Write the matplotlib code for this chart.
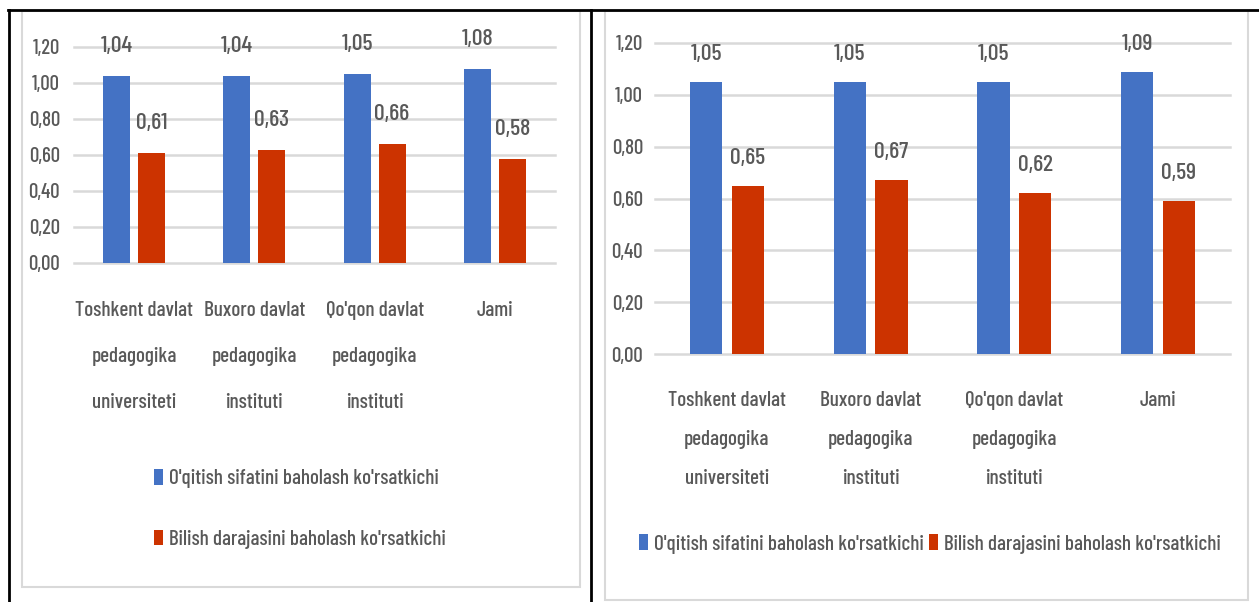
import matplotlib
matplotlib.use('Agg')
import matplotlib.pyplot as plt
from matplotlib import font_manager
from matplotlib.font_manager import FontProperties
from matplotlib.patches import Rectangle
from matplotlib.lines import Line2D
import numpy as np

# ma'lumotlar
categories = ['Toshkent davlat\npedagogika\nuniversiteti',
              'Buxoro davlat\npedagogika\ninstituti',
              "Qo'qon davlat\npedagogika\ninstituti",
              'Jami']
series_names = ["O'qitish sifatini baholash ko'rsatkichi",
                "Bilish darajasini baholash ko'rsatkichi"]
left_oqitish = [1.04, 1.04, 1.05, 1.08]
left_bilish = [0.61, 0.63, 0.66, 0.58]
right_oqitish = [1.05, 1.05, 1.05, 1.09]
right_bilish = [0.65, 0.67, 0.62, 0.59]
yticks = [0.0, 0.2, 0.4, 0.6, 0.8, 1.0, 1.2]

BLUE = '#4472C4'
RED = '#CC3300'
GRAY = '#595959'
GRID = '#D9D9D9'

names = {f.name for f in font_manager.fontManager.ttflist}
FONT = 'Liberation Sans'
for cand in ['Barlow Condensed', 'Archivo Narrow', 'Barlow Semi Condensed']:
    if cand in names:
        FONT = cand
        break
FAM = [FONT, 'DejaVu Sans']
WEIGHT = 500
plt.rcParams['font.family'] = FAM
plt.rcParams['font.weight'] = WEIGHT

W, H = 1259, 602
fig = plt.figure(figsize=(W / 100, H / 100), dpi=100)
rend = fig.canvas.get_renderer()


def metrics(s, size):
    fp = FontProperties(family=FAM, size=size, weight=WEIGHT)
    return rend.get_text_width_height_descent(s, fp, ismath=False)


def fit(s, target):
    # shrift o'lchamini matn kengligiga moslash
    w = metrics(s, 10)[0]
    return 10 * target / w


def lp(size):
    w, h, d = metrics('lp', size)
    return h - d, d


TICK = fit('1,20', 27.5)
LAB = fit('1,04', 32)
CAT = fit('Toshkent davlat', 118)
LEG = fit(series_names[0], 270)
px_pt = 72 / 100


def px(x0, y0, x1, y1):
    return [x0 / W, 1 - y1 / H, (x1 - x0) / W, (y1 - y0) / H]


def fmt(v):
    return f'{v:.2f}'.replace('.', ',')


def draw(ax, a, b, cat_gap, cat_step, base_gap, tick_gap):
    x = np.arange(len(categories))
    b1 = ax.bar(x - 0.145, a, 0.225, color=BLUE, zorder=3)
    b2 = ax.bar(x + 0.145, b, 0.225, color=RED, zorder=3)
    d_lab = lp(LAB)[1]
    for bars, vals in [(b1, a), (b2, b)]:
        ax.bar_label(bars, labels=[fmt(v) for v in vals],
                     padding=(base_gap - d_lab) * px_pt, fontsize=LAB, color=GRAY)
    ax.set_xlim(-0.5, 3.5)
    ax.set_ylim(0, 1.2)
    ax.set_yticks(yticks)
    ax.set_yticklabels([fmt(v) for v in yticks], fontsize=TICK, color=GRAY)
    asc = lp(CAT)[0]
    ax.set_xticks(x)
    ax.set_xticklabels(categories, fontsize=CAT, color=GRAY, linespacing=cat_step / asc)
    ax.tick_params(axis='x', length=0, pad=cat_gap * px_pt)
    ax.tick_params(axis='y', length=0, pad=tick_gap * px_pt)
    ax.grid(axis='y', color=GRID, lw=1.8)
    ax.set_axisbelow(True)
    for ln in ax.get_ygridlines():
        ln.set_clip_on(False)
    for s in ax.spines.values():
        s.set_visible(False)
    return b1, b2


fs_px = LEG / px_pt
leg_kw = dict(loc='center', frameon=False, fontsize=LEG, handlelength=9 / fs_px,
              handleheight=16 / fs_px, handletextpad=6 / fs_px, labelcolor=GRAY)

# chap diagramma
ax1 = fig.add_axes(px(74, 47, 555, 263))
h1 = draw(ax1, left_oqitish, left_bilish, 38, 42, 24, 14)
asc_l, d_l = lp(LEG)
fig.legend(h1, series_names, bbox_to_anchor=(300 / W, 1 - 509 / H), ncol=1,
           labelspacing=(60 - asc_l - d_l) / fs_px, **leg_kw)

# o'ng diagramma
ax2 = fig.add_axes(px(655, 43, 1230, 354))
h2 = draw(ax2, right_oqitish, right_bilish, 37, 35, 22, 12)
fig.legend(h2, series_names, bbox_to_anchor=(930 / W, 1 - 544 / H), ncol=2,
           columnspacing=5 / fs_px, **leg_kw)

# ramkalar
for r in [(22, 11, 580, 587), (605, 11, 1248, 600)]:
    x0, y0, w, h = px(*r)
    fig.add_artist(Rectangle((x0, y0), w, h, transform=fig.transFigure,
                             fill=False, edgecolor=GRID, lw=1.5))
fig.add_artist(Line2D([8 / W, 1], [1 - 9.5 / H] * 2, transform=fig.transFigure, color='black', lw=2))
fig.add_artist(Line2D([8.5 / W] * 2, [0, 1 - 9.5 / H], transform=fig.transFigure, color='black', lw=2))
fig.add_artist(Line2D([591 / W] * 2, [0, 1 - 9.5 / H], transform=fig.transFigure, color='black', lw=2))

fig.savefig('out.png', dpi=100, facecolor='white')
